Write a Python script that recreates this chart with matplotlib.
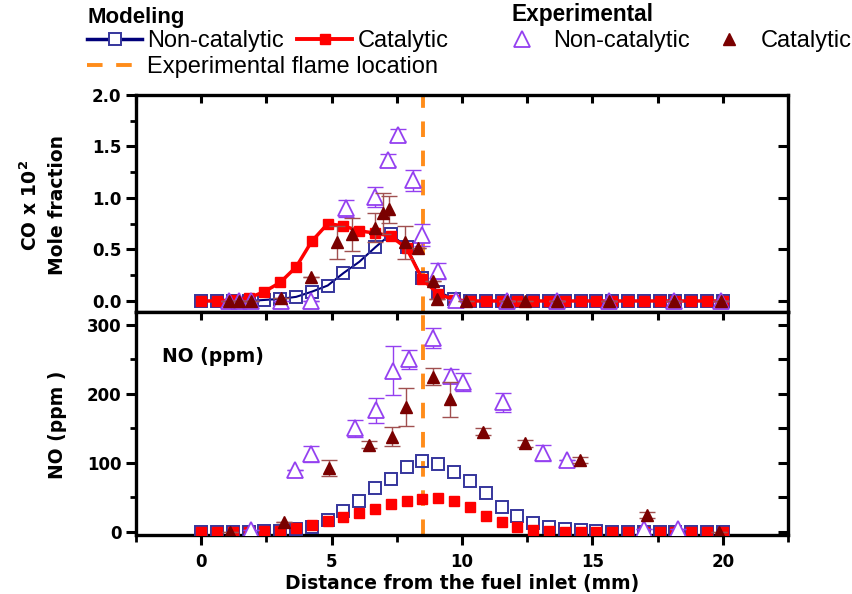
import numpy as np
import matplotlib
matplotlib.use("Agg")
import matplotlib.pyplot as plt
from matplotlib.lines import Line2D
from matplotlib.ticker import MultipleLocator

plt.rcParams['font.family'] = ['DejaVu Sans']
plt.rcParams['font.weight'] = 'bold'
plt.rcParams['mathtext.default'] = 'bf'

# modeling grid (mm)
x_model = [0.00, 0.61, 1.21, 1.82, 2.42, 3.03, 3.64, 4.24, 4.85, 5.45, 6.06, 6.67,
           7.27, 7.88, 8.48, 9.09, 9.70, 10.30, 10.91, 11.52, 12.12, 12.73, 13.33,
           13.94, 14.55, 15.15, 15.76, 16.36, 16.97, 17.58, 18.18, 18.79, 19.39, 20.00]

# CO x 10^2 (mole fraction), modeling
co_mod_noncat = [0, 0, 0, 0, 0.01, 0.02, 0.04, 0.09, 0.15, 0.27, 0.38, 0.52, 0.65,
                 0.52, 0.22, 0.09, 0.02] + [0] * 17
co_mod_cat = [0, 0, 0.01, 0.03, 0.09, 0.18, 0.33, 0.58, 0.75, 0.73, 0.68, 0.66, 0.63,
              0.51, 0.21, 0.07, 0.01] + [0] * 17

# NO (ppm), modeling
no_mod_noncat = [0, 0, 0, 0, 0.5, 1.5, 3, 7, 17, 30, 45, 63, 77, 94, 103, 98, 87, 73,
                 56, 36, 22, 13, 7, 4, 2, 1] + [0] * 8
no_mod_cat = [0, 0, 0, 0, 1, 1.5, 5, 9, 15, 21, 27, 33, 40, 45, 48, 48.5, 44.5, 35,
              23, 13.6, 6.4, 2.5, 1] + [0] * 11

# experimental CO
x_co_exp_noncat = [1.08, 1.46, 1.91, 3.06, 4.2, 5.56, 6.65, 7.17, 7.53, 8.13, 8.45,
                   9.09, 9.78, 11.72, 13.64, 15.63, 18.13, 19.92]
co_exp_noncat = [0, 0, 0, 0, 0, 0.90, 1.01, 1.37, 1.61, 1.17, 0.64, 0.29, 0.01,
                 0, 0, 0, 0, 0]
co_err_noncat = [0, 0, 0, 0, 0, 0.08, 0.10, 0.06, 0.06, 0.10, 0.11, 0.08, 0,
                 0, 0, 0, 0, 0]

x_co_exp_cat = [1.08, 1.46, 1.91, 3.06, 4.22, 5.2, 5.77, 6.65, 6.97, 7.22, 7.83, 8.33,
                8.9, 9.03, 10.15, 11.72, 12.42, 13.64, 15.63, 18.13, 19.92]
co_exp_cat = [0, 0, 0, 0.03, 0.23, 0.57, 0.65, 0.71, 0.85, 0.89, 0.57, 0.51,
              0.19, 0.02, 0, 0, 0, 0, 0, 0, 0]
co_err_cat = [0, 0, 0, 0, 0, 0.16, 0.16, 0.14, 0.20, 0.13, 0.16, 0,
              0, 0, 0, 0, 0, 0, 0, 0, 0]

# experimental NO
x_no_exp_noncat = [1.91, 3.58, 4.22, 5.88, 6.69, 7.36, 7.96, 8.9, 9.56, 10.05, 11.56,
                   13.1, 14.03, 16.97, 18.3]
no_exp_noncat = [2, 89, 113, 150, 176, 234, 250, 281, 226, 217, 188, 114, 104, 3, 3]
no_err_noncat = [0, 0, 12, 12, 18, 35, 14, 15, 10, 13, 14, 12, 0, 0, 0]

x_no_exp_cat = [1.1, 3.19, 4.9, 6.44, 7.32, 7.85, 8.88, 9.54, 10.82, 12.42, 14.54,
                17.1, 19.86]
no_exp_cat = [0, 14, 92, 126, 138, 181, 225, 192, 145, 128, 104, 24, 0]
no_err_cat = [0, 0, 12, 5, 14, 27, 12, 25, 5, 5, 5, 5, 0]

flame_x = 8.5

# colours
c_blue = '#35359c'
c_navy = '#00007a'
c_red = '#ff0000'
c_purple = '#9440f0'
c_dred = '#7a0000'
c_dred_err = '#a05050'
c_orange = '#ff8c1a'

fig = plt.figure(figsize=(8.53, 5.94), dpi=100)
W, H = 853.0, 594.0
left, right = 136 / W, 788 / W
ax1 = fig.add_axes([left, 1 - 312 / H, right - left, (312 - 95) / H])
ax2 = fig.add_axes([left, 1 - 535 / H, right - left, (535 - 312) / H])

# ---- CO panel ----
ax1.plot(x_model, co_mod_noncat, '-', color=c_navy, lw=1.5, marker='s', ms=9,
         mfc='none', mec=c_blue, mew=1.4, zorder=3)
ax1.plot(x_model, co_mod_cat, '-', color=c_red, lw=2.5, marker='s', ms=7.5,
         mfc=c_red, mec=c_red, zorder=4)
ax1.errorbar(x_co_exp_noncat, co_exp_noncat, yerr=co_err_noncat, fmt='none',
             ecolor=c_purple, elinewidth=1, capsize=6, capthick=1, zorder=5)
ax1.plot(x_co_exp_noncat, co_exp_noncat, '^', ms=12, mfc='white', mec=c_purple,
         mew=1.3, zorder=6)
ax1.errorbar(x_co_exp_cat, co_exp_cat, yerr=co_err_cat, fmt='none',
             ecolor=c_dred_err, elinewidth=1, capsize=6, capthick=1, zorder=7)
ax1.plot(x_co_exp_cat, co_exp_cat, '^', ms=9, mfc=c_dred, mec=c_dred, zorder=8)

# ---- NO panel ----
ax2.plot(x_model, no_mod_noncat, 's', ms=9, mfc='none', mec=c_blue, mew=1.4, zorder=3)
ax2.plot(x_model, no_mod_cat, 's', ms=7.5, mfc=c_red, mec=c_red, zorder=4)
ax2.errorbar(x_no_exp_noncat, no_exp_noncat, yerr=no_err_noncat, fmt='none',
             ecolor=c_purple, elinewidth=1, capsize=6, capthick=1, zorder=5)
ax2.plot(x_no_exp_noncat, no_exp_noncat, '^', ms=12, mfc='white', mec=c_purple,
         mew=1.3, zorder=6)
ax2.errorbar(x_no_exp_cat, no_exp_cat, yerr=no_err_cat, fmt='none',
             ecolor=c_dred_err, elinewidth=1, capsize=6, capthick=1, zorder=7)
ax2.plot(x_no_exp_cat, no_exp_cat, '^', ms=9, mfc=c_dred, mec=c_dred, zorder=8)

for ax in (ax1, ax2):
    ax.axvline(flame_x, color=c_orange, lw=2.8, dashes=(4, 3.5), zorder=2)
    ax.set_xlim(-2.5, 22.5)
    for sp in ax.spines.values():
        sp.set_linewidth(2.4)

ax1.set_ylim(-0.107, 2.0)
ax2.set_ylim(-5, 319)

# ticks CO panel
ax1.xaxis.set_major_locator(MultipleLocator(2.5))
ax1.yaxis.set_major_locator(MultipleLocator(0.5))
ax1.yaxis.set_minor_locator(MultipleLocator(0.25))
ax1.tick_params(axis='x', which='both', bottom=False, top=True, direction='in',
                labelbottom=False, length=6, width=2.2)
ax1.tick_params(axis='y', which='major', left=True, right=False, direction='out',
                length=7, width=2.2, labelsize=12)
ax1.tick_params(axis='y', which='minor', left=True, direction='out', length=4, width=2)
ax1.set_yticks([0.0, 0.5, 1.0, 1.5, 2.0])
ax1.set_yticklabels(['0.0', '0.5', '1.0', '1.5', '2.0'])
axr1 = ax1.secondary_yaxis('right')
axr1.set_yticks([0.0, 0.5, 1.0, 1.5])
axr1.tick_params(direction='in', length=7, width=2.2, labelright=False)
axr1.spines['right'].set_linewidth(0)

# ticks NO panel
ax2.xaxis.set_major_locator(MultipleLocator(5))
ax2.xaxis.set_minor_locator(MultipleLocator(2.5))
ax2.yaxis.set_major_locator(MultipleLocator(100))
ax2.yaxis.set_minor_locator(MultipleLocator(50))
ax2.tick_params(axis='x', which='major', direction='out', length=7, width=2.2,
                labelsize=12, pad=6)
ax2.tick_params(axis='x', which='minor', direction='out', length=5, width=2)
ax2.tick_params(axis='y', which='major', direction='out', length=7, width=2.2,
                labelsize=12)
ax2.tick_params(axis='y', which='minor', direction='out', length=4, width=2)
axt2 = ax2.secondary_xaxis('top')
axt2.set_xticks([0, 2.5, 5, 7.5, 10, 12.5, 15, 17.5, 20])
axt2.tick_params(direction='in', length=6, width=2.2, labeltop=False)
axt2.spines['top'].set_linewidth(0)
axr2 = ax2.secondary_yaxis('right')
axr2.set_yticks([0, 50, 100, 150, 200, 250, 300])
axr2.tick_params(direction='in', length=7, width=2.2, labelright=False)
axr2.spines['right'].set_linewidth(0)

ax2.set_xlabel('Distance from the fuel inlet (mm)', fontsize=13.5, fontweight='bold',
               labelpad=2)
ax2.text(0.04, 0.80, 'NO (ppm)', transform=ax2.transAxes, fontsize=13.5,
         fontweight='bold', va='center', ha='left')

fig.text(30 / W, 1 - 205 / H, 'CO x 10$^{2}$', rotation=90, fontsize=13.5,
         fontweight='bold', ha='center', va='center')
fig.text(58 / W, 1 - 205 / H, 'Mole fraction', rotation=90, fontsize=13.5,
         fontweight='bold', ha='center', va='center')
fig.text(58 / W, 1 - 425 / H, 'NO (ppm )', rotation=90, fontsize=13.5,
         fontweight='bold', ha='center', va='center')

# ---- legend ----
lfont = {'family': 'Liberation Sans', 'weight': 'normal', 'size': 17}
fig.text(88 / W, 1 - 17 / H, 'Modeling', fontsize=16, fontweight='bold',
         family='Liberation Sans', ha='left', va='center')
fig.text(512 / W, 1 - 15 / H, 'Experimental', fontsize=16.3, fontweight='bold',
         family='Liberation Sans', ha='left', va='center')

h_noncat = Line2D([], [], color=c_navy, lw=2.5, marker='s', ms=9, mfc='white',
                  mec=c_blue, mew=1.4)
h_cat = Line2D([], [], color=c_red, lw=2.8, marker='s', ms=7.5, mfc=c_red, mec=c_red)
h_flame = Line2D([], [], color=c_orange, lw=2.8, dashes=(4, 3.5))
h_enon = Line2D([], [], ls='none', marker='^', ms=12, mfc='white', mec=c_purple, mew=1.3)
h_ecat = Line2D([], [], ls='none', marker='^', ms=9, mfc=c_dred, mec=c_dred)

leg_kw = dict(frameon=False, prop=lfont, borderpad=0, borderaxespad=0,
              handletextpad=0.23, loc='center left')
legA = fig.legend([h_noncat, h_cat], ['Non-catalytic', 'Catalytic'], ncol=2,
                  bbox_to_anchor=(87 / W, 1 - 41 / H), handlelength=2.33,
                  columnspacing=0.55, **leg_kw)
legB = fig.legend([h_flame], ['Experimental flame location'],
                  bbox_to_anchor=(87 / W, 1 - 67 / H), handlelength=2.33, **leg_kw)
leg_kw['handletextpad'] = 0.64
legC = fig.legend([h_enon, h_ecat], ['Non-catalytic', 'Catalytic'], ncol=2,
                  bbox_to_anchor=(505 / W, 1 - 41 / H), handlelength=1.4,
                  columnspacing=0.95, **leg_kw)

fig.savefig('out.png', dpi=100)
